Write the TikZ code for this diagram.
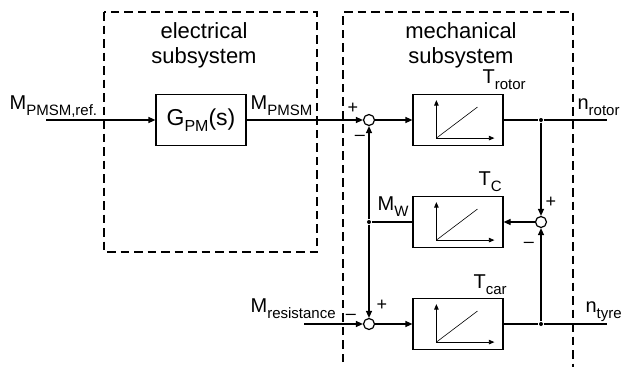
\documentclass[tikz,border=0pt]{standalone}
\usepackage{fontspec}
\setmainfont{Liberation Sans}
\usetikzlibrary{arrows.meta, positioning, calc}

% signal name with lowered index
\newcommand{\sig}[2]{#1\raisebox{-6pt}{\fontsize{15}{15}\selectfont #2}}

\begin{document}
\begin{tikzpicture}[x=1pt, y=-1pt, line width=1.2pt,
  >={Triangle[length=7pt,width=6pt]},
  block/.style={draw, minimum width=90pt, minimum height=51pt, inner sep=0pt},
  sum/.style={draw, circle, minimum size=11pt, inner sep=0pt},
  dot/.style={fill, circle, minimum size=4pt, inner sep=0pt},
  subsys/.style={draw, line width=1.1pt, dash pattern=on 8.5pt off 5pt},
  head/.style={font=\fontsize{22}{25}\selectfont, align=center, inner sep=0pt, anchor=north},
  lab/.style={font=\fontsize{20}{20}\selectfont, inner sep=0pt, anchor=base west},
  sign/.style={font=\fontsize{18}{18}\selectfont, inner sep=0pt}]
\useasboundingbox (0,0) rectangle (622,367);

% Subsystem frames
\draw[subsys] (104,12) rectangle (317,252);
\draw[subsys] (343,362) -- (343,12) -- (573,12) -- (573,367);
\node[head] (helec) at (204,22) {electrical\\subsystem};
\node[head] (hmech) at (461,22) {mechanical\\subsystem};

% Blocks
\node[block, font=\fontsize{23}{23}\selectfont] (gpm) at (201,120) {G\raisebox{-6pt}{\fontsize{16}{16}\selectfont PM}(s)};
\node[block] (trotor) at (458,120) {};
\node[block] (tc) at (458,222) {};
\node[block] (tcar) at (458,324) {};

% Summing points and branches
\node[sum] (s1) at (369,120) {};
\node[sum] (s2) at (541,222) {};
\node[sum] (s3) at (369,324) {};
\node[dot] (b1) at (541,120) {};
\node[dot] (bw) at (369,222) {};
\node[dot] (b2) at (541,324) {};
\coordinate (in1) at (46,120);
\coordinate (in3) at (304,324);
\coordinate (out1) at (607,120);
\coordinate (out2) at (607,324);

% Integrator symbols
\foreach \b in {trotor, tc, tcar} {
    \draw[line width=0.8pt, -{Triangle[length=5.5pt,width=4.5pt]}] ($(\b.south west)+(24,-8)$) -- ++(0,-38);
    \draw[line width=0.8pt, -{Triangle[length=5.5pt,width=4.5pt]}] ($(\b.south west)+(24,-8)$) -- ++(58,0);
    \draw[line width=0.6pt] ($(\b.south west)+(24,-8)$) -- ++(41,-31);
}

% Signal lines
\draw[->] (in1) -- (gpm);
\draw[->] (gpm) -- (s1);
\draw[->] (s1) -- (trotor);
\draw (trotor) -- (b1) -- (out1);
\draw[->] (b1) -- (s2);
\draw[->] (b2) -- (s2);
\draw[->] (s2) -- (tc);
\draw (tc) -- (bw);
\draw[->] (bw) -- (s1);
\draw[->] (bw) -- (s3);
\draw[->] (in3) -- (s3);
\draw[->] (s3) -- (tcar);
\draw (tcar) -- (b2) -- (out2);

% Labels
\node[lab] (lmref) at (9,109) {\sig{M}{PMSM,ref.}};
\node[lab] (lmpmsm) at (250,109) {\sig{M}{PMSM}};
\node[lab] (ltrotor) at (482,83) {\sig{T}{rotor}};
\node[lab] (ltc) at (478,185) {\sig{T}{C}};
\node[lab] (ltcar) at (473,288) {\sig{T}{car}};
\node[lab] (lmw) at (377,210) {\sig{M}{W}};
\node[lab] (lmres) at (250,312) {\sig{M}{resistance}};
\node[lab] (lnrot) at (577,109) {\sig{n}{rotor}};
\node[lab] (lntyre) at (585,312) {\sig{n}{tyre}};

% Signs
\node[sign] (p1) at (353,108) {+};
\node[sign] (m1) at (360,138) {–};
\node[sign] (p2) at (551,202) {+};
\node[sign] (m2) at (529,245) {–};
\node[sign] (m3) at (351,317) {–};
\node[sign] (p3) at (382,305) {+};
\end{tikzpicture}
\end{document}
